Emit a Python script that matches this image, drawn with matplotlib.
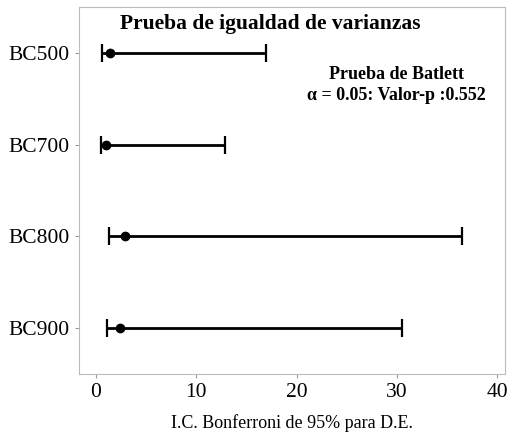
import matplotlib.pyplot as plt

# Bonferroni 95% intervals for standard deviation
grupos = ['BC500', 'BC700', 'BC800', 'BC900']
desv_est = [1.4, 1.0, 2.9, 2.4]
ic_inf = [0.6, 0.45, 1.3, 1.05]
ic_sup = [17.0, 12.9, 36.5, 30.5]
x_ticks = [0, 10, 20, 30, 40]

plt.rcParams['font.family'] = ['Liberation Serif', 'DejaVu Serif']

fig = plt.figure(figsize=(5.14, 4.41), dpi=100)
ax = fig.add_axes([0.1537, 0.152, 0.8288, 0.832])

pos = list(range(len(grupos)))[::-1]
err_low = [d - lo for d, lo in zip(desv_est, ic_inf)]
err_high = [hi - d for d, hi in zip(desv_est, ic_sup)]
ax.errorbar(desv_est, pos, xerr=[err_low, err_high], fmt='o', color='black',
            markersize=6, elinewidth=2, capsize=6.5, capthick=1.6)

ax.set_xlim(-1.7, 40.8)
ax.set_ylim(-0.5, 3.5)
ax.set_xticks(x_ticks)
ax.set_yticks(pos)
ax.set_yticklabels(grupos)
ax.tick_params(axis='both', colors='#999999', labelcolor='black', labelsize=15.5, length=3)
for s in ax.spines.values():
    s.set_color('#bbbbbb')

ax.set_xlabel('I.C. Bonferroni de 95% para D.E.', fontsize=13, labelpad=9)

ax.text(0.45, 0.955, 'Prueba de igualdad de varianzas', transform=ax.transAxes,
        ha='center', va='center', fontsize=15.5, fontweight='bold')
ax.text(0.745, 0.787, 'Prueba de Batlett\n\u03b1 = 0.05: Valor-p :0.552', transform=ax.transAxes,
        ha='center', va='center', fontsize=13, fontweight='bold', linespacing=1.3)

fig.savefig('out.png', dpi=100)
